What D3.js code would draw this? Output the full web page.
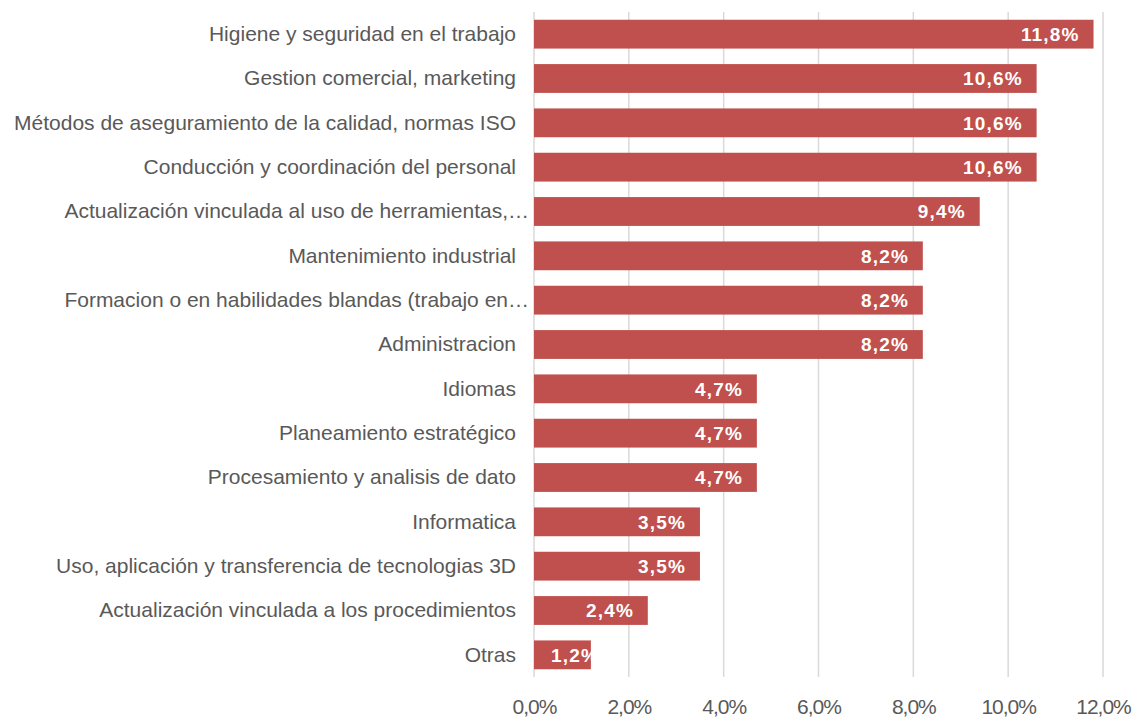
<!DOCTYPE html>
<html lang="es">
<head>
<meta charset="UTF-8">
<title>Temas de capacitación</title>
<script src="https://d3js.org/d3.v7.min.js"></script>
<style>
  body { margin: 0; background: #fff; }
  .cat text { font: 21px "Liberation Sans", Arial, sans-serif; fill: #595959; }
  .xax text { font: 21px "Liberation Sans Narrow", "Arial Narrow", "Liberation Sans", sans-serif; fill: #595959; letter-spacing: -1px; }
  .lbl { font: bold 19px "Liberation Sans", Arial, sans-serif; fill: #fff; letter-spacing: 1.2px; }
</style>
</head>
<body>
<script>
var categories = [
  "Higiene y seguridad en el trabajo",
  "Gestion comercial, marketing",
  "Métodos de aseguramiento de la calidad, normas ISO",
  "Conducción y coordinación del personal",
  "Actualización vinculada al uso de herramientas,…",
  "Mantenimiento industrial",
  "Formacion o en habilidades blandas (trabajo en…",
  "Administracion",
  "Idiomas",
  "Planeamiento estratégico",
  "Procesamiento y analisis de dato",
  "Informatica",
  "Uso, aplicación y transferencia de tecnologias 3D",
  "Actualización vinculada a los procedimientos",
  "Otras"
];
var values = [11.8, 10.6, 10.6, 10.6, 9.4, 8.2, 8.2, 8.2, 4.7, 4.7, 4.7, 3.5, 3.5, 2.4, 1.2];
var xTicks = [0, 2, 4, 6, 8, 10, 12];

var width = 1137, height = 718;
var plotLeft = 534, plotRight = 1103, plotTop = 12, plotBottom = 677;

var svg = d3.select("body").append("svg").attr("width", width).attr("height", height);

var fmt = function(v) { return v.toFixed(1).replace(".", ",") + "%"; };

var x = d3.scaleLinear().domain([0, 12]).range([plotLeft, plotRight]);
var y = d3.scaleBand().domain(categories).range([plotTop, plotBottom]).paddingInner(0.35).paddingOuter(0.175);

// gridlines
svg.append("g").selectAll("line").data(xTicks).join("line")
  .attr("x1", function(d) { return x(d); }).attr("x2", function(d) { return x(d); })
  .attr("y1", plotTop).attr("y2", plotBottom)
  .attr("stroke", "#d9d9d9").attr("stroke-width", 1.5);

// x axis labels
var xAxis = d3.axisBottom(x).tickValues(xTicks).tickFormat(function(d) { return fmt(d); }).tickSize(0).tickPadding(22);
svg.append("g").attr("class", "xax").attr("transform", "translate(0," + plotBottom + ")").call(xAxis)
  .call(function(g) { g.select(".domain").remove(); });

// bars + clip paths so labels stay inside their bar
var defs = svg.append("defs");
defs.selectAll("clipPath").data(values).join("clipPath")
  .attr("id", function(d, i) { return "clip" + i; })
  .append("rect")
  .attr("x", x(0))
  .attr("y", function(d, i) { return y(categories[i]); })
  .attr("width", function(d) { return x(d) - x(0); })
  .attr("height", y.bandwidth());

svg.append("g").selectAll("rect").data(values).join("rect")
  .attr("x", x(0))
  .attr("y", function(d, i) { return y(categories[i]); })
  .attr("width", function(d) { return x(d) - x(0); })
  .attr("height", y.bandwidth())
  .attr("fill", "#c0504d");

// category labels
var yAxis = d3.axisLeft(y).tickSize(0).tickPadding(18);
svg.append("g").attr("class", "cat").attr("transform", "translate(" + plotLeft + ",0)").call(yAxis)
  .call(function(g) {
    g.select(".domain").remove();
    g.selectAll("text").attr("dx", function(d) { return d.slice(-1) === "…" ? 13 : 0; });
  });

// value labels, inside end; never start left of the bar's inner margin
svg.append("g").selectAll("text").data(values).join("text")
  .attr("class", "lbl")
  .attr("clip-path", function(d, i) { return "url(#clip" + i + ")"; })
  .attr("y", function(d, i) { return y(categories[i]) + y.bandwidth() / 2; })
  .attr("dy", "0.36em")
  .text(function(d) { return fmt(d); })
  .attr("x", function(d) {
    var w = this.getComputedTextLength() - 1.2;
    return Math.max(x(d) - 15 - w, x(0) + 17);
  });
</script>
</body>
</html>
